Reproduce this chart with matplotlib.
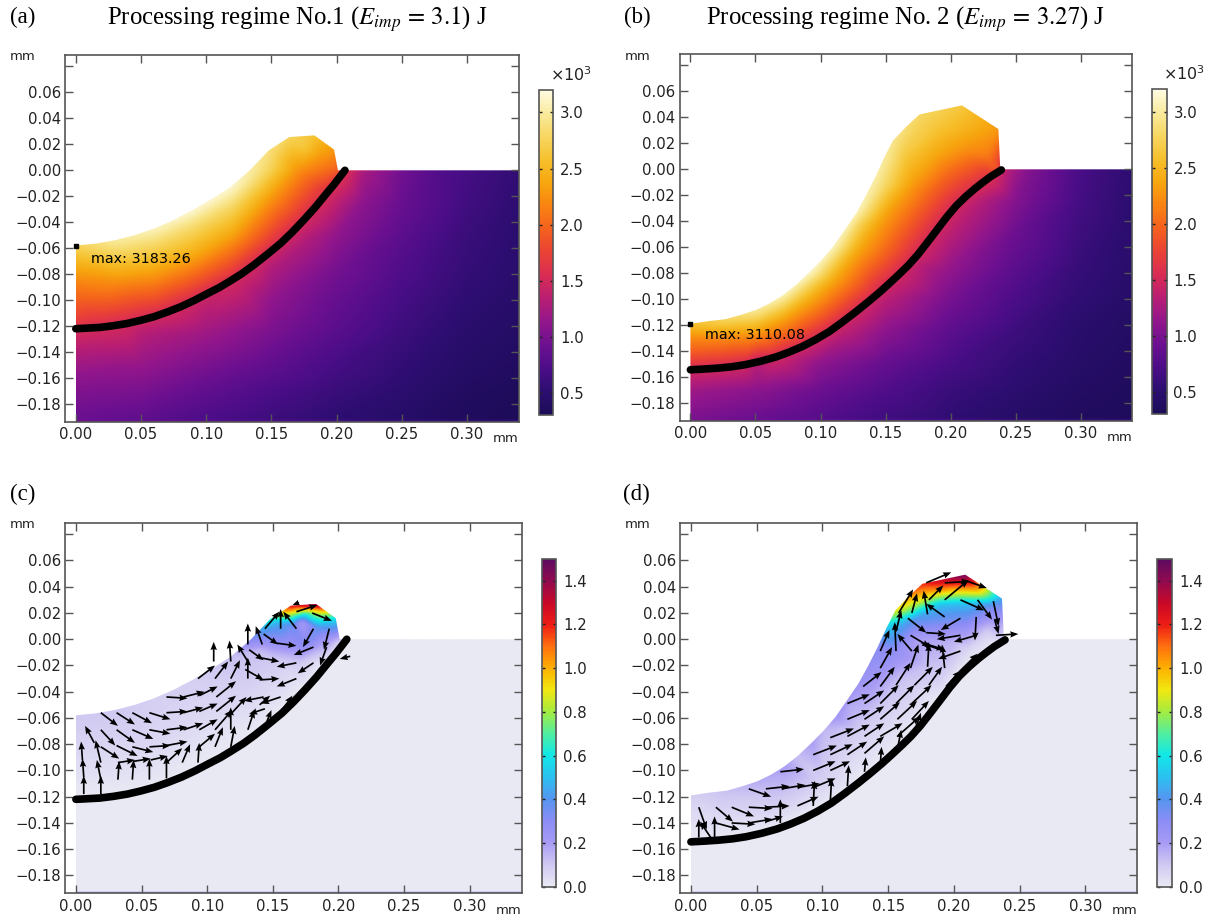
import numpy as np
import matplotlib
matplotlib.use("Agg")
import matplotlib.pyplot as plt
from matplotlib.cm import ScalarMappable
from matplotlib.colors import LinearSegmentedColormap, Normalize
from matplotlib.patches import Polygon
from matplotlib.tri import LinearTriInterpolator, Triangulation

plt.rcParams.update({"font.family": "DejaVu Sans", "mathtext.fontset": "stix", "figure.dpi": 100})
W, H = 1209, 923

# free surface and melt boundary, mm
surf_1_x = [0, .0156, .0303, .045, .0598, .0745, .0892, .104, .1186, .1334, .148, .1637, .183, .198, .201, .339]
surf_1_y = [-.058, -.0564, -.0538, -.05, -.0449, -.0385, -.0308, -.0223, -.0128, 0, .0154, .0256, .0269, .016, 0, 0]
melt_1_x = [0, .0097, .0185, .0288, .0392, .0495, .0598, .07, .0804, .0907, .101, .11, .1186, .1275, .1363, .1466,
            .1569, .1657, .1746, .1834, .1922, .1981, .2025, .2064]
melt_1_y = [-.122, -.1215, -.121, -.1197, -.118, -.1156, -.1128, -.1092, -.1051, -.1003, -.0949, -.0903, -.0851,
            -.0795, -.0731, -.0649, -.0564, -.0479, -.0385, -.0287, -.0179, -.0108, -.0051, 0]
surf_2_x = [0, .0139, .0271, .0389, .0507, .0611, .0714, .0817, .092, .1009, .1097, .1186, .1274, .1348, .1422,
            .1487, .1555, .1658, .1761, .2086, .2366, .2381, .339]
surf_2_y = [-.119, -.1169, -.1154, -.1121, -.1082, -.1031, -.0967, -.0885, -.0787, -.0697, -.0595, -.0467, -.0338,
            -.0203, -.0056, .0085, .022, .0328, .0423, .0492, .031, 0, 0]
melt_2_x = [0, .0109, .0212, .0316, .0419, .0537, .0655, .0758, .0861, .0965, .1068, .1171, .1274, .1363, .1451,
            .1525, .1599, .1673, .1746, .182, .1894, .1968, .2041, .2115, .2189, .2248, .2307, .2389]
melt_2_y = [-.1544, -.1538, -.1531, -.1521, -.1505, -.1479, -.1446, -.1408, -.1364, -.131, -.1249, -.1174, -.1095,
            -.1023, -.0949, -.0882, -.0813, -.0741, -.0659, -.0564, -.0467, -.0369, -.0282, -.021, -.0146, -.01,
            -.0056, -.0005]

# points on the melt boundary where the field was read
iso_1_x = [0, .0185, .039, .060, .080, .101, .119, .136, .157, .175, .192, .2025, .206]
iso_1_y = [-.122, -.121, -.118, -.113, -.105, -.095, -.086, -.073, -.056, -.0385, -.018, -.005, 0]
iso_1_t = [1.55, 1.52, 1.5, 1.5, 1.5, 1.5, 1.5, 1.5, 1.5, 1.52, 1.55, 1.6, 1.6]
iso_1_v = [0, 0, 0, 0, 0, 0, 0, 0, 0, 0, 0, 0, 0]
iso_2_x = [0, .021, .042, .0655, .086, .1068, .1274, .145, .160, .1746, .189, .204, .219, .2307, .239]
iso_2_y = [-.1544, -.153, -.1505, -.1446, -.1364, -.1249, -.1095, -.0949, -.0813, -.0659, -.0467, -.0282, -.0146, -.0056, 0]
iso_2_t = [1.5, 1.5, 1.5, 1.5, 1.5, 1.5, 1.5, 1.5, 1.5, 1.5, 1.5, 1.5, 1.55, 1.6, 1.6]
iso_2_v = [0, 0, 0, 0, 0, 0, 0, 0, 0, 0, 0, 0, 0, 0, 0]

# temperature samples, 10^3 K
temp_1_x = [0, .03, .06, .089, .119, .148, .164, .183, .198, .201,
            0, 0, 0, 0, 0, 0, 0, 0, 0,
            .03, .06, .09, .12, .15, .17, .185, .195,
            .06, .09, .12, .15, .175,
            .21, .22, .25, .28, .30, .34,
            .22, .25, .30, .34,
            .18, .20, .25, .30, .34,
            .15, .20, .25, .30, .34,
            .10, .15, .20, .25, .30, .34,
            .05, .10, .15, .20, .25, .30, .34,
            .05, .10, .15, .20, .25, .30, .34,
            .05, .10, .15, .20, .25, .30, .34,
            .05, .10, .15, .20, .25, .30, .34,
            0, .2, .34]
temp_1_y = [-.058, -.054, -.045, -.031, -.013, .017, .0256, .0269, .016, 0,
            -.07, -.08, -.09, -.10, -.11, -.14, -.16, -.18, -.195,
            -.085, -.08, -.065, -.05, -.02, 0, .01, 0,
            -.055, -.042, -.025, .002, .018,
            0, 0, 0, 0, 0, 0,
            -.025, -.025, -.025, -.025,
            -.05, -.05, -.05, -.05, -.05,
            -.075, -.075, -.075, -.075, -.075,
            -.10, -.10, -.10, -.10, -.10, -.10,
            -.125, -.125, -.125, -.125, -.125, -.125, -.125,
            -.15, -.15, -.15, -.15, -.15, -.15, -.15,
            -.17, -.17, -.17, -.17, -.17, -.17, -.17,
            -.195, -.195, -.195, -.195, -.195, -.195, -.195,
            .09, .09, .09]
temp_1_t = [2.75, 3.0, 3.1, 3.15, 3.15, 2.9, 2.75, 2.6, 2.3, 2.0,
            2.5, 2.3, 2.1, 1.95, 1.8, 1.3, 1.1, .97, .9,
            2.25, 2.3, 2.4, 2.35, 2.3, 2.25, 2.3, 2.0,
            2.85, 2.85, 2.85, 2.75, 2.65,
            1.5, 1.25, .95, .75, .68, .55,
            1.1, .9, .65, .52,
            1.3, 1.12, .82, .6, .5,
            1.3, .98, .75, .57, .48,
            1.4, 1.12, .88, .68, .52, .45,
            1.33, 1.2, 1.0, .8, .62, .47, .42,
            1.15, 1.0, .85, .68, .55, .43, .38,
            1.0, .85, .72, .6, .5, .38, .34,
            .82, .7, .6, .5, .43, .35, .32,
            3.0, 2.6, .5]

temp_2_x = [0, .027, .051, .071, .092, .11, .127, .142, .1555, .176, .2086, .2366, .238,
            0, 0,
            .03, .05, .07, .09, .11, .13, .15, .17, .19, .21, .23,
            .07, .09, .11, .13, .15, .165, .19, .22,
            .245, .26, .29, .30, .34,
            .22, .25, .30, .34,
            .20, .25, .30, .34,
            .18, .20, .25, .30, .34,
            .15, .20, .25, .30, .34,
            .12, .15, .20, .25, .30, .34,
            .05, .10, .15, .20, .25, .30, .34,
            0, .05, .10, .15, .20, .25, .30, .34,
            0, .05, .10, .15, .20, .25, .30, .34,
            0, .2, .34]
temp_2_y = [-.119, -.1154, -.1082, -.0967, -.0787, -.0595, -.0338, -.0056, .022, .0423, .0492, .031, 0,
            -.13, -.14,
            -.13, -.125, -.115, -.10, -.085, -.06, -.035, -.01, .01, .015, .01,
            -.105, -.088, -.07, -.04, -.012, .015, .03, .03,
            0, 0, 0, 0, 0,
            -.025, -.025, -.025, -.025,
            -.05, -.05, -.05, -.05,
            -.075, -.075, -.075, -.075, -.075,
            -.10, -.10, -.10, -.10, -.10,
            -.125, -.125, -.125, -.125, -.125, -.125,
            -.15, -.15, -.15, -.15, -.15, -.15, -.15,
            -.17, -.17, -.17, -.17, -.17, -.17, -.17, -.17,
            -.195, -.195, -.195, -.195, -.195, -.195, -.195, -.195,
            .09, .09, .09]
temp_2_t = [2.6, 2.8, 3.0, 3.1, 3.15, 3.1, 3.1, 3.05, 2.95, 2.8, 2.65, 2.3, 2.0,
            2.2, 1.95,
            2.2, 2.35, 2.4, 2.45, 2.4, 2.4, 2.35, 2.35, 2.35, 2.25, 2.1,
            2.8, 2.85, 2.8, 2.8, 2.8, 2.7, 2.6, 2.4,
            1.3, 1.05, .78, .7, .52,
            1.35, 1.05, .67, .5,
            1.35, .92, .62, .49,
            1.3, 1.15, .82, .58, .47,
            1.35, .98, .72, .53, .44,
            1.35, 1.1, .82, .62, .47, .41,
            1.3, 1.1, .88, .7, .55, .44, .38,
            1.2, 1.1, .92, .75, .6, .5, .4, .36,
            .98, .88, .76, .62, .52, .43, .36, .33,
            3.0, 2.6, .5]

# velocity magnitude samples, m/s
vel_1_x = [0, .03, .06, .09, .12, .14, .148, .164, .183, .198, .201,
           .155, .165, .175, .185, .195, .15, .165, .172, .185, .195, .16, .175, .185,
           .15, .17, .19, .14, .05, .10, .13, 0, .2, .34, 0, .34, .21, .34]
vel_1_y = [-.058, -.054, -.045, -.031, -.013, .005, .017, .0256, .0269, .016, 0,
           .012, .018, .02, .02, .014, 0, .01, .0128, .008, 0, -.005, -.005, -.008,
           -.015, -.018, -.015, -.01, -.08, -.06, -.04, .09, .09, .09, -.195, -.195, 0, 0]
vel_1_v = [.1, .1, .08, .08, .12, .4, .7, 1.3, 1.45, .6, .15,
           .45, .75, .7, .85, .55, .3, .35, .2, .38, .2, .25, .3, .15,
           .1, .1, .05, .12, .06, .05, .07, 0, 0, 0, 0, 0, 0, 0]

vel_2_x = [0, .027, .051, .071, .092, .11, .127, .142, .1555, .176, .2086, .2366, .238,
           .15, .165, .18, .2, .22, .17, .19, .21, .23, .19, .21, .225, .17, .2, .155, .18, .14,
           .12, .10, .08, .05, .02, .16, .19, .21, .06, .10, .13, 0, .2, .34, 0, .34, .245, .34]
vel_2_y = [-.119, -.1154, -.1082, -.0967, -.0787, -.0595, -.0338, -.0056, .022, .0423, .0492, .031, 0,
           .01, .02, .035, .042, .035, .015, .026, .027, .025, .012, .012, .005, 0, -.002, -.01, -.02, -.03,
           -.05, -.07, -.09, -.12, -.135, -.03, -.03, -.01, -.135, -.11, -.07, .09, .09, .09, -.195, -.195, 0, 0]
vel_2_v = [.08, .12, .17, .2, .2, .22, .24, .3, .9, 1.2, 1.5, .45, .1,
           .55, .7, 1.0, 1.2, .9, .4, .5, .5, .35, .33, .3, .08, .2, .15, .28, .12, .22,
           .17, .14, .12, .1, .05, .12, .08, .05, .05, .07, .08, 0, 0, 0, 0, 0, 0, 0]

# velocity arrows (tail, vector), mm
arr_1_x = [.006, .006, .005, .014, .019, .019, .019, .019, .031, .043, .056, .019, .031, .043, .056,
           .019, .031, .043, .056, .069, .032, .043, .056, .069, .032, .044, .057, .069, .081, .093,
           .069, .082, .094, .069, .082, .094, .069, .082, .094, .094, .106, .106, .118, .118, .107,
           .107, .093, .106, .118, .119, .131, .144, .143, .156, .145, .157, .131, .131, .132, .140,
           .129, .140, .168, .168, .181, .181, .143, .153, .142, .131, .105, .118, .144, .156, .168,
           .168, .180, .181, .193, .191, .209, .170, .140]
arr_1_y = [-.118, -.105, -.092, -.079, -.094, -.118, -.107, -.056, -.056, -.056, -.056, -.069, -.069, -.069, -.069,
           -.082, -.081, -.082, -.082, -.081, -.107, -.107, -.107, -.106, -.094, -.093, -.092, -.094, -.094, -.094,
           -.069, -.069, -.069, -.056, -.056, -.055, -.044, -.044, -.043, -.082, -.082, -.069, -.082, -.069, -.055,
           -.044, -.030, -.030, -.030, -.056, -.069, -.053, -.044, -.044, -.064, -.054, -.017, -.030, -.008, -.014,
           -.023, -.031, -.018, -.030, -.006, -.018, .004, -.003, -.004, -.004, -.017, -.017, .008, .008, .008,
           .021, .020, .008, .008, -.006, -.013, .028, -.050]
arr_1_u = [0, -.001, -.001, -.007, -.004, 0, -.003, .013, .014, .015, .016, .011, .014, .016, .016,
           .014, .016, .016, .016, .016, .001, .001, 0, 0, .013, .013, .013, .012, .006, .001,
           .016, .015, .014, .016, .015, .014, .016, .016, .014, .012, .006, .013, .003, 0, .015,
           .015, .013, .010, .007, .011, .005, -.012, -.015, -.015, .004, .008, -.008, 0, .011, .015,
           .014, .015, -.015, -.015, -.015, -.012, .011, .015, -.005, 0, 0, -.001, .011, 0, -.010,
           .016, .015, -.008, -.004, -.005, -.008, -.005, .008]
arr_1_v = [.014, .014, .014, .013, .017, .014, .015, -.010, -.009, -.008, -.005, -.012, -.010, -.007, -.003,
           -.009, -.008, -.004, .001, .003, .014, .015, .016, .017, .002, .002, .003, .011, .014, .015,
           .002, .005, .008, .001, .004, .006, -.001, .004, .007, .010, .015, .015, .016, .017, .012,
           .012, .010, .013, .014, .012, .015, -.004, -.003, -.005, .010, .011, .013, .016, -.008, -.003,
           -.008, .001, -.003, -.006, -.006, -.008, -.008, -.002, .014, .016, .015, .016, .013, .015, .013,
           .005, -.006, -.014, -.016, -.014, -.002, -.002, .007]

arr_2_x = [.006, .015, .006, .018, .019, .031, .044, .019, .031, .044, .044, .057, .057, .068, .057,
           .068, .081, .069, .081, .093, .093, .093, .106, .106, .093, .106, .119, .106, .119, .119,
           .132, .119, .119, .132, .132, .131, .132, .132, .144, .144, .144, .144, .144, .144, .157,
           .157, .157, .156, .156, .156, .167, .168, .168, .170, .170, .180, .181, .194, .204, .205,
           .193, .168, .193, .144, .156, .168, .158, .180, .193, .181, .179, .193, .205, .208, .193,
           .218, .230, .217, .205, .205, .217, .165, .179, .231, .232, .167, .180]
arr_2_y = [-.151, -.151, -.128, -.151, -.128, -.128, -.114, -.140, -.140, -.128, -.140, -.114, -.128, -.140, -.139,
           -.101, -.127, -.114, -.113, -.127, -.100, -.088, -.100, -.088, -.113, -.124, -.112, -.075, -.088, -.074,
           -.101, -.061, -.049, -.061, -.049, -.036, -.074, -.087, -.096, -.074, -.061, -.049, -.036, -.022, -.084,
           -.074, -.061, -.049, -.035, -.009, -.022, -.049, -.061, -.070, -.035, -.021, -.035, -.036, -.025, -.009,
           -.022, -.009, -.009, -.009, .006, .020, .020, .019, .017, .030, .043, .030, .030, .045, .043,
           .030, .029, .017, .016, .003, .003, .016, .005, .015, .003, .003, -.004]
arr_2_u = [0, -.008, .006, 0, .013, .017, .017, .018, .018, .018, .018, .018, .018, 0, .013,
           .018, .016, .018, .017, .001, .017, .018, .015, .017, .017, .001, .001, .018, .015, .017,
           .001, .017, .017, .015, .015, .014, .015, .015, .001, .017, .015, .014, .011, .009, .003,
           .017, .015, .014, .011, -.001, .006, .015, .013, .005, .014, .001, .010, .011, .014, -.017,
           -.002, -.011, -.018, .007, .004, .004, .011, -.003, -.014, .011, .019, .018, .018, .017, .019,
           .011, .004, -.001, -.015, -.018, -.017, .014, .015, .003, .017, .015, .013]
arr_2_v = [.014, .012, -.017, .016, -.011, -.007, -.006, -.005, -.001, -.001, .003, .002, .001, .018, .004,
           .002, .007, .003, .003, .019, .007, .007, .007, .008, .007, .018, .016, .007, .010, .009,
           .011, .007, .007, .010, .010, .011, .010, .013, .014, .010, .013, .014, .015, .016, .015,
           .015, .014, .014, .017, .022, .018, .014, .014, .014, .014, .018, .014, .012, .014, -.006,
           .018, .013, .006, .016, .016, .015, .018, .018, .010, .011, .008, .015, -.008, -.006, .001,
           -.015, -.019, -.018, -.009, -.003, -.005, -.011, -.001, -.011, .001, -.009, -.004]

temp_cols = ["#1c0c58", "#2c0e70", "#4c0d88", "#6c1090", "#92168c", "#b81e74", "#d92c55", "#ea4236",
             "#f4601e", "#f98212", "#f7a60e", "#f6c02c", "#f7d660", "#f9ea9c", "#fefbe2"]
vel_vals = [0, .1, .2, .3, .4, .5, .6, .7, .8, .9, 1.0, 1.1, 1.2, 1.3, 1.4, 1.5]
vel_cols = ["#e9e9f4", "#cfc8f2", "#a79bf5", "#8b8cf5", "#5596f0", "#2bc0f0", "#10e8e8", "#50eea0",
            "#a4ec40", "#f0e810", "#fdb000", "#ff7010", "#ee1c14", "#c80828", "#900a50", "#5c0a60"]
temp_cmap = LinearSegmentedColormap.from_list("temp", temp_cols)
vel_cmap = LinearSegmentedColormap.from_list("vel", [(v / 1.5, c) for v, c in zip(vel_vals, vel_cols)])


def box(l, t, r, b):
    return [l / W, 1 - b / H, (r - l) / W, (b - t) / H]


def blur(z, n=3):
    k = np.ones(n) / n
    z = np.apply_along_axis(lambda c: np.convolve(np.pad(c, n, mode="edge"), k, "same")[n:-n], 0, z)
    return np.apply_along_axis(lambda c: np.convolve(np.pad(c, n, mode="edge"), k, "same")[n:-n], 1, z)


def draw_panel(pos, sx, sy, mx, my, px, py, pv, cmap, vmin, vmax, smooth):
    ax = fig.add_axes(box(*pos))
    xs, ys = np.linspace(0, .34, 500), np.linspace(-.2, .09, 420)
    gx, gy = np.meshgrid(xs, ys)
    z = LinearTriInterpolator(Triangulation(px, py), pv)(gx, gy).filled(1.0)
    im = ax.imshow(blur(z, smooth), extent=(0, .34, -.2, .09), origin="lower", aspect="auto",
                   cmap=cmap, vmin=vmin, vmax=vmax, interpolation="bilinear")
    outline = list(zip(sx, sy)) + [(.34, 0), (.34, -.2), (0, -.2)]
    im.set_clip_path(Polygon(outline, closed=True, transform=ax.transData))
    ax.plot(mx, my, color="black", lw=5.5, solid_capstyle="round", solid_joinstyle="round", zorder=3)
    ax.set_xlim(-.0083, .3395)
    ax.set_ylim(-.1936, .0888)
    ax.set_xticks(np.arange(0, .31, .05), [f"{v:.2f}" for v in np.arange(0, .31, .05)])
    yt = np.arange(-.18, .09, .02)
    ylabels = [("\u2212" if v < -.001 else "") + f"{abs(v):.2f}" if v < .07 else "" for v in yt]
    ax.set_yticks(yt, ylabels)
    ax.tick_params(direction="in", top=True, right=True, length=5.5, width=1, color="#555555",
                   labelsize=10.7, labelcolor="#222222", pad=4)
    ax.tick_params(axis="y", pad=3)
    for s in ax.spines.values():
        s.set_color("#555555")
        s.set_linewidth(1.2)
    fig.text((pos[0] - 55) / W, 1 - (pos[1] + 2) / H, "mm", fontsize=9.5, color="#222222", va="center")
    fig.text((pos[2]) / W, 1 - (pos[3] + 17) / H, "mm", fontsize=9.5, color="#222222", va="center", ha="right")
    return ax


def draw_cbar(pos, cmap, vmin, vmax, ticks, fmt):
    cax = fig.add_axes(box(*pos))
    cb = fig.colorbar(ScalarMappable(Normalize(vmin, vmax), cmap), cax=cax, ticks=ticks)
    cb.ax.set_yticklabels([fmt.format(t) for t in ticks])
    cb.ax.tick_params(direction="in", left=True, right=True, length=2.5, width=1, color="#222222",
                      labelsize=10.7, labelcolor="#222222", pad=5)
    cb.outline.set_edgecolor("#555555")
    cb.outline.set_linewidth(1.2)


def draw_arrows(ax, x, y, u, v):
    ax.quiver(x, y, u, v, angles="xy", scale_units="xy", scale=1, units="dots", width=1.7,
              headwidth=3.8, headlength=4.8, headaxislength=4.3, color="black", zorder=4)


fig = plt.figure(figsize=(W / 100, H / 100))

t1x, t1y, t1t = temp_1_x + iso_1_x, temp_1_y + iso_1_y, temp_1_t + iso_1_t
t2x, t2y, t2t = temp_2_x + iso_2_x, temp_2_y + iso_2_y, temp_2_t + iso_2_t
v1x, v1y, v1v = vel_1_x + iso_1_x, vel_1_y + iso_1_y, vel_1_v + iso_1_v
v2x, v2y, v2v = vel_2_x + iso_2_x, vel_2_y + iso_2_y, vel_2_v + iso_2_v

ax_a = draw_panel((65, 55, 518.5, 421.7), surf_1_x, surf_1_y, melt_1_x, melt_1_y, t1x, t1y, t1t, temp_cmap, .3, 3.2, 11)
ax_b = draw_panel((679.6, 54, 1132.3, 420.7), surf_2_x, surf_2_y, melt_2_x, melt_2_y, t2x, t2y, t2t, temp_cmap, .3, 3.2, 11)
ax_c = draw_panel((65, 522.7, 521.5, 893.3), surf_1_x, surf_1_y, melt_1_x, melt_1_y, v1x, v1y, v1v, vel_cmap, 0, 1.5, 7)
ax_d = draw_panel((680, 522.7, 1137.3, 893.3), surf_2_x, surf_2_y, melt_2_x, melt_2_y, v2x, v2y, v2v, vel_cmap, 0, 1.5, 7)
draw_arrows(ax_c, arr_1_x, arr_1_y, arr_1_u, arr_1_v)
draw_arrows(ax_d, arr_2_x, arr_2_y, arr_2_u, arr_2_v)

ax_a.plot([0], [-.058], "s", color="black", ms=2.6, clip_on=False)
ax_b.plot([0], [-.119], "s", color="black", ms=2.6, clip_on=False)
ax_a.text(.0116, -.068, "max: 3183.26", fontsize=10.4, color="black", va="center")
ax_b.text(.0115, -.1274, "max: 3110.08", fontsize=10.4, color="black", va="center", zorder=5)

temp_ticks = [.5, 1, 1.5, 2, 2.5, 3]
vel_ticks = [0, .2, .4, .6, .8, 1, 1.2, 1.4]
draw_cbar((538.5, 90, 553, 415.3), temp_cmap, .3, 3.2, temp_ticks, "{:.1f}")
draw_cbar((1152.3, 89.3, 1166.5, 414), temp_cmap, .3, 3.2, temp_ticks, "{:.1f}")
draw_cbar((542, 558.7, 556, 886.7), vel_cmap, 0, 1.5, vel_ticks, "{:.1f}")
draw_cbar((1157.3, 558.7, 1172, 886.7), vel_cmap, 0, 1.5, vel_ticks, "{:.1f}")
fig.text(571 / W, 1 - 75 / H, "\u00d710$^3$", fontsize=11.5, color="#222222", ha="center", va="center", math_fontfamily="dejavusans")
fig.text(1184 / W, 1 - 74 / H, "\u00d710$^3$", fontsize=11.5, color="#222222", ha="center", va="center", math_fontfamily="dejavusans")

serif = "Liberation Serif"
fig.text(297 / W, 1 - 19 / H, r"Processing regime No.1 ($E_{imp}\,=\,3.1$) J", family=serif, fontsize=17.8, ha="center", va="center")
fig.text(906 / W, 1 - 19 / H, r"Processing regime No. 2 ($E_{imp}\,=\,3.27$) J", family=serif, fontsize=17.8, ha="center", va="center")
for label, x, y in [("(a)", 23, 17), ("(b)", 637, 17), ("(c)", 23, 494), ("(d)", 636, 494)]:
    fig.text(x / W, 1 - y / H, label, family=serif, fontsize=16.5, ha="center", va="center")

fig.savefig("out.png", dpi=100)
